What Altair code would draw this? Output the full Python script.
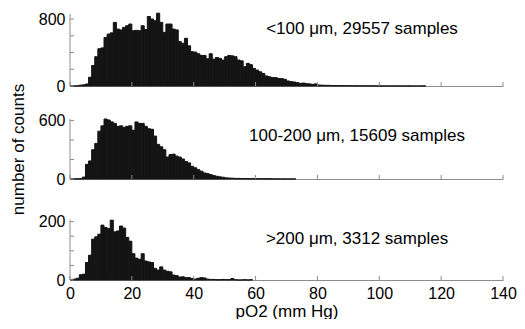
import altair as alt
import pandas as pd

# ---- data (1 mm Hg bins starting at 0) ----
counts_lt100 = [0, 0, 2, 10, 14, 24, 105, 245, 350, 445, 455, 580, 620, 635, 760, 680,
                670, 700, 720, 740, 660, 665, 660, 720, 675, 830, 800, 780, 870, 760,
                640, 740, 740, 680, 670, 530, 510, 570, 480, 410, 405, 385, 365, 365,
                325, 385, 320, 340, 330, 310, 350, 365, 360, 350, 310, 300, 230, 270,
                255, 210, 190, 170, 150, 120, 110, 100, 100, 90, 88, 80, 60, 52, 48,
                40, 32, 35, 28, 25, 20, 25, 12, 10, 8, 8, 6, 5, 5, 4, 3, 4, 3, 2, 3,
                2, 2, 2, 1, 2, 1, 1, 1, 0, 1, 0, 0, 1, 0, 0, 0, 1, 0, 0, 0, 0, 1]
counts_100_200 = [0, 1, 2, 4, 20, 150, 185, 300, 365, 490, 545, 615, 605, 585, 570, 540,
                  545, 530, 540, 545, 500, 585, 570, 570, 540, 515, 510, 440, 355, 330,
                  300, 225, 250, 255, 235, 225, 205, 180, 165, 130, 115, 95, 80, 62, 55,
                  45, 35, 28, 22, 18, 12, 10, 8, 6, 6, 5, 5, 4, 3, 4, 3, 2, 2, 3, 2, 1,
                  0, 1, 0, 1, 0, 0, 1]
counts_gt200 = [0, 3, 6, 18, 20, 60, 85, 140, 148, 157, 188, 180, 176, 205, 165, 168, 185,
                178, 146, 133, 90, 75, 71, 90, 65, 62, 60, 40, 34, 45, 34, 30, 28, 17, 15,
                10, 11, 8, 8, 5, 3, 6, 8, 7, 3, 2, 2, 1, 1, 2, 1, 1, 5, 1, 0, 0, 1, 0, 1]

panel_labels = ["<100 \u03bcm, 29557 samples",
                "100-200 \u03bcm, 15609 samples",
                ">200 \u03bcm, 3312 samples"]
x_ticks = [0, 20, 40, 60, 80, 100, 120, 140]
y_ticks = [[0, 200, 400, 600, 800], [0, 200, 400, 600], [0, 50, 100, 150, 200]]
y_labels = [[0, 800], [0, 600], [0, 200]]
y_limits = [860, 615, 207]

FONT = "Liberation Sans"
BAR = "#141414"
AXIS = "#8c8c8c"
W = 433


def panel(counts, label, ticks, labels, ylim, height, ydom, bottom, ytitle, text_pos):
    df = pd.DataFrame({"lo": list(range(len(counts))),
                       "hi": [i + 1 for i in range(len(counts))],
                       "count": counts})
    xscale = alt.Scale(domain=[0, 140], nice=False, zero=False, padding=0)
    yscale = alt.Scale(domain=[0, ydom], nice=False, padding=0)
    xaxis = alt.Axis(labels=bottom, ticks=False, domainColor=AXIS, grid=False,
                     values=x_ticks, labelFontSize=16, labelFont=FONT, labelColor="black",
                     labelPadding=5, labelFlush=False,
                     title="pO2 (mm Hg)" if bottom else None,
                     titleFont=FONT, titleFontSize=17, titleFontWeight="normal",
                     titleColor="black", titlePadding=2)
    yaxis = alt.Axis(values=labels, ticks=False, domain=False, grid=False,
                     labelFontSize=16, labelFont=FONT, labelColor="black", labelPadding=5,
                     title="number of counts" if ytitle else None, titleFont=FONT,
                     titleFontSize=17, titleFontWeight="normal", titleColor="black",
                     titlePadding=11)
    bars = alt.Chart(df).mark_rect(color=BAR, stroke=BAR, strokeWidth=1).encode(
        x=alt.X("lo:Q", scale=xscale, axis=xaxis),
        x2="hi:Q",
        y=alt.Y("count:Q", scale=yscale, axis=yaxis),
        y2=alt.datum(0),
    )
    yline = alt.Chart(pd.DataFrame({"a": [0], "b": [ylim]})).mark_rule(
        color=AXIS, strokeWidth=1).encode(
        x=alt.value(0), y=alt.Y("a:Q", scale=yscale, axis=yaxis), y2="b:Q")
    yt = alt.Chart(pd.DataFrame({"t": ticks})).mark_rule(color=AXIS, strokeWidth=1).encode(
        y=alt.Y("t:Q", scale=yscale, axis=yaxis), x=alt.value(0), x2=alt.value(4))
    xt = alt.Chart(pd.DataFrame({"t": x_ticks})).mark_rule(color=AXIS, strokeWidth=1).encode(
        x=alt.X("t:Q", scale=xscale, axis=xaxis), y=alt.value(height), y2=alt.value(height - 4))
    txt = alt.Chart(pd.DataFrame({"label": [label]})).mark_text(
        font=FONT, fontSize=17, color="black", align="center", baseline="middle").encode(
        x=alt.value(text_pos[0]), y=alt.value(text_pos[1]), text="label:N")
    return alt.layer(bars, yline, yt, xt, txt).properties(width=W, height=height)


p1 = panel(counts_lt100, panel_labels[0], y_ticks[0], y_labels[0], y_limits[0],
           72, 860, False, False, (292, 15))
p2 = panel(counts_100_200, panel_labels[1], y_ticks[1], y_labels[1], y_limits[1],
           60, 615, False, True, (287, 17))
p3 = panel(counts_gt200, panel_labels[2], y_ticks[2], y_labels[2], y_limits[2],
           68, 233, True, False, (287, 27))

chart = alt.vconcat(p1, p2, p3, spacing=33, bounds="flush").properties(
    padding={"left": 1, "top": 3, "right": 0, "bottom": 0}
).configure_view(stroke=None)

chart.save("out.html", embed_options={"renderer": "svg", "actions": False})
